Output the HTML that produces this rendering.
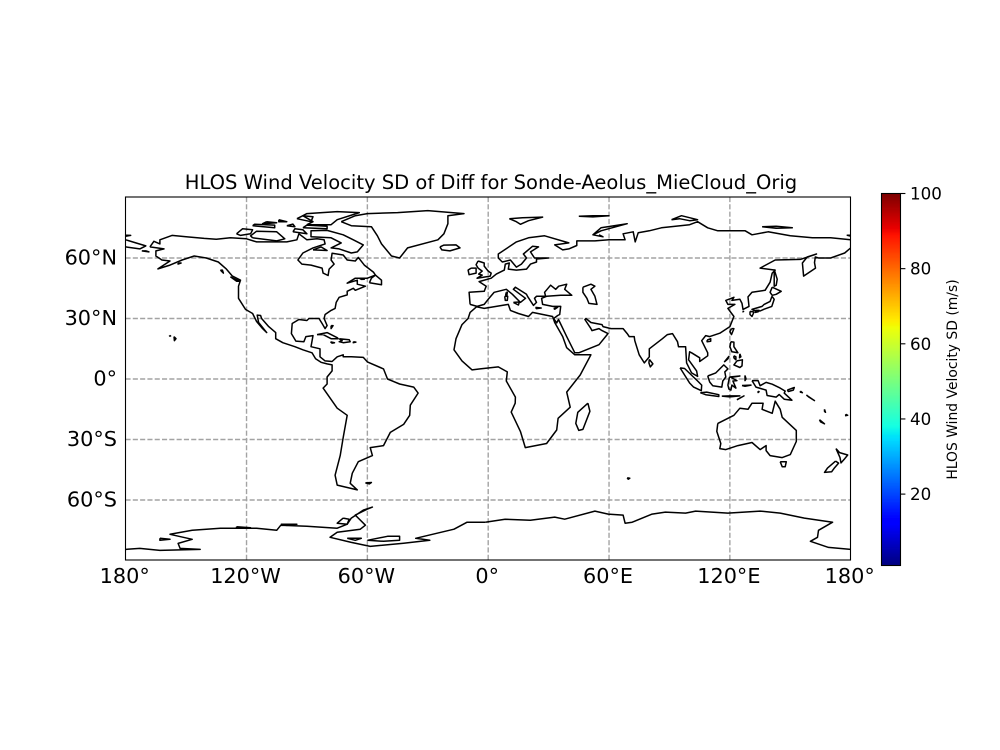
<!DOCTYPE html>
<html lang="en">
<head>
<meta charset="utf-8">
<title>HLOS Wind Velocity SD of Diff</title>
<style>
html,body{margin:0;padding:0;background:#fff;}
svg{display:block;font-family:"DejaVu Sans","Liberation Sans",sans-serif;}
</style>
</head>
<body>
<svg id="chart" xmlns="http://www.w3.org/2000/svg" width="1000" height="750" viewBox="0 0 1000 750">
<defs><clipPath id="axclip"><rect x="125.5" y="197" width="725" height="363"/></clipPath></defs>
<rect width="1000" height="750" fill="#fff"/>
<text x="491" y="189" font-size="19.55" text-anchor="middle" fill="#000">HLOS Wind Velocity SD of Diff for Sonde-Aeolus_MieCloud_Orig</text>
<g id="grid"></g>
<g id="coast" clip-path="url(#axclip)"></g>
<rect x="125.5" y="197" width="725" height="363" fill="none" stroke="#000" stroke-width="1.1"/>
<g id="xticks"></g>
<g id="yticks"></g>
<g id="cbar"></g>
<text transform="translate(957,379.5) rotate(-90)" font-size="13.9" text-anchor="middle" fill="#000">HLOS Wind Velocity SD (m/s)</text>
</svg>
<script>
var lonTicks = [-180,-120,-60,0,60,120,180];
var lonLabels = ["180°","120°W","60°W","0°","60°E","120°E","180°"];
var latTicks = [60,30,0,-30,-60];
var latLabels = ["60°N","30°N","0°","30°S","60°S"];
var colorbarTicks = [20,40,60,80,100];
var colorbarMin = 1;
var colorbarMax = 100;

var americas = [[-168,65.5],[-166,68.3],[-163,67],[-163,69],[-157,71.2],[-150,70.5],[-141,69.7],[-135,69.3],[-128,70],[-120,69.5],[-115,68],[-108,68],[-100,68],[-95,69],[-94,72],[-90,69],[-85,69.5],[-81.5,69],[-81,67],[-87,65],[-92,62.5],[-94.5,59],[-92.5,57],[-88,56.5],[-82.5,55],[-82,52.5],[-79.5,51.3],[-79,54.5],[-76.5,57],[-78,59],[-77.5,62.4],[-72,61.5],[-70,59],[-66,58.5],[-64.5,60.3],[-61.5,56.5],[-57,53],[-56,51.5],[-60,50],[-66,50],[-70,47.5],[-65,49],[-65,47],[-61,46],[-66,44],[-67,45],[-70,43.5],[-70,41.7],[-74,40.5],[-75.5,38],[-76,35],[-78,34],[-81,32],[-81.5,30],[-80,26.5],[-81,25],[-82.5,27.5],[-84,30],[-89,30],[-90,29],[-94,29.5],[-97.3,27.5],[-97.7,22.5],[-95.5,18.8],[-91.5,18.5],[-90.5,21],[-87,21.5],[-88,16],[-83.5,15],[-83.5,11],[-81,9],[-77.5,8.7],[-75,11],[-72,12],[-72,11],[-68,11],[-62,10.7],[-60,8.5],[-52,5],[-50,0],[-44,-2.5],[-37,-4],[-34.8,-7],[-38.7,-13],[-39,-18],[-42,-22.5],[-48.6,-26.5],[-52,-33],[-58.6,-34],[-57.5,-38],[-64.5,-41],[-67.5,-46.7],[-68.5,-51.7],[-65,-55],[-75,-52.6],[-76,-47.7],[-73.5,-38],[-72,-29],[-70,-18],[-75,-14.5],[-82,-4.5],[-80,-2.5],[-80,1],[-77.5,4],[-77.5,7],[-80,7.5],[-83,8.3],[-85.7,10],[-87.5,13],[-92,14.5],[-96,16],[-102,18],[-105.5,20],[-105.5,23],[-109,26],[-112.5,30],[-113,31.5],[-114.7,31.7],[-114,28],[-110,23],[-112,25],[-115,28.5],[-117,32.5],[-120.5,34.5],[-124,40],[-124,46],[-123,49],[-127,51],[-130,54.5],[-134,58],[-140,60],[-146,61],[-152,59],[-158,56.5],[-164,54.6],[-158,58.5],[-162,59],[-165,61],[-165,63.5],[-161,64.5],[-168,65.5]];

var greenland = [[-73,78],[-66,81],[-60,82],[-45,82.5],[-30,83.5],[-12,82],[-20,81],[-20,77],[-22,72],[-25,69],[-40,65],[-44,60],[-48,61],[-53,67],[-55,71],[-58,75.5],[-68,76],[-73,78]];

var arcticCanada = [
[[-80,73.7],[-72,71.5],[-67,69],[-62,66.5],[-65,63],[-68,62.5],[-74,64.5],[-78,65],[-73,67.5],[-78,70],[-88,70.5],[-88,73.5],[-80,73.7]],
[[-117,70],[-105,68.5],[-101,69.5],[-105,73],[-115,73.3],[-118,71],[-117,70]],
[[-90,76.5],[-78,76.5],[-75,79],[-64,82.5],[-75,83],[-90,82],[-92,81],[-87,78],[-90,76.5]],
[[-125,72],[-123,71.2],[-118,72],[-117,74],[-122,74.5],[-125,72]],
[[-92,75],[-80,74.5],[-80,75.7],[-90,76.3],[-92,75]],
[[-117,76],[-106,75],[-106,76.3],[-116,76.7],[-117,76]],
[[-95,79.5],[-88,78],[-87,80.5],[-92,81],[-95,79.5]],
[[-97,73],[-90,72],[-92,74],[-96,74.5],[-97,73]],
[[-87,64],[-80,63.7],[-83,65.5],[-87,64]],
[[-110,78],[-105,77.5],[-112,77],[-110,78]],
[[-100,76],[-96,75.5],[-97,76.8],[-100,76]],
[[-104,79],[-100,78],[-104,78],[-104,79]],
[[-59,47.7],[-53,46.7],[-53,49],[-56,51.5],[-58,50],[-59,47.7]],
[[-128,50.7],[-123.5,48.5],[-125,48.5],[-128,50.7]],
[[-133,54],[-131.5,52.5],[-132,54],[-133,54]],
[[-154,57.5],[-152.5,57.5],[-154,57],[-154,57.5]],
[[-172,63.5],[-168.5,63],[-170,63.5],[-172,63.5]],
[[-64,50],[-61.5,49.5],[-63,49.4],[-64,50]]
];

var caribbean = [
[[-85,22],[-80,23],[-75,20.5],[-74.5,20],[-78,20],[-82,22],[-85,22]],
[[-74,20],[-69,19.5],[-68.5,18.5],[-72,18],[-74,18.5],[-72.5,19],[-74,20]],
[[-78.3,18.4],[-76.3,18],[-77.5,17.8],[-78.3,18.4]],
[[-67,18.5],[-65.7,18.3],[-67,18],[-67,18.5]],
[[-78,26.5],[-77,26.5],[-78,25],[-78,26.5]],
[[-156,21],[-155,20],[-155.8,19],[-156,21]],
[[-158.2,21.6],[-157.7,21.3],[-158.2,21.3],[-158.2,21.6]]
];

var southAtlantic = [
[[-61,-51.5],[-58,-51.3],[-59,-52],[-61,-51.5]]
];

var eurasia = [[-9,37],[-9.5,43],[-2,43.5],[-1,46],[-4.5,48.3],[1.5,50],[4,52],[8,54],[8.5,57],[10.5,57.5],[10,54.5],[14,54],[19,54.5],[21,57],[24,58],[24,59.5],[30,60],[23,60],[21,63],[25,65.5],[22,65.8],[17.5,62],[19,60],[16.5,57],[14,55.5],[11,59],[7,58],[5,60],[5,62],[14,68],[20,70],[28,71],[40,67.5],[33,66.5],[37,64],[40,64.5],[44,66.2],[44,68.5],[53,68.5],[60,69],[68,69],[67,72],[72,73],[73,68],[74.5,72.5],[80,73.5],[86,75],[100,76.5],[104,78],[109,75],[114,73.5],[127.6,73.5],[131,71.5],[139,73],[150,71],[161,70],[170,70],[180,69],[180,65],[177,62.5],[170,60],[164,60],[162.4,60.5],[162,57.7],[162.5,55],[156.6,51],[156,57.5],[158.4,60.5],[163,62],[155,59.3],[142.5,59],[135,55],[142.5,54],[141,52.5],[140,48],[137.5,44],[131,43],[129,40.7],[129.5,36],[126.5,34.5],[126,37.5],[125,39.5],[121,39],[122,40.5],[118,39],[119,37],[122.5,37],[119,35],[122,31],[120,26],[115,22.7],[110,21],[108,21.5],[106,19],[109,13],[109,11.5],[105,8.7],[105,10.5],[101,13],[100,13.5],[99.5,9.5],[103.5,4],[104,1.3],[101,3],[98.5,8],[98,16],[94.5,16],[94,18.5],[91.5,22.5],[89,22],[86.5,20],[80,15],[80,11],[77.5,8],[75,12],[72.8,19],[72.5,21],[70,21],[69,22.5],[67,25],[61,25],[57,26],[56.5,27],[51,28],[48.5,30],[48,29.5],[51,25],[51.5,24],[55,25],[56.5,24],[59.5,22.5],[55,17],[45,13],[43,13],[39,21],[34.9,29.5],[34,27.8],[32.5,30],[34.5,31.5],[35.5,32],[36,36],[32,36],[27,37],[26.5,40],[29,41],[36,41.5],[41.5,41.5],[38,44.5],[39,47],[35,46],[33.5,44.5],[31,46.5],[28,43],[28.5,41],[24,41],[23,40],[24,38],[22.5,36.5],[19.5,41],[19,42],[13.5,45.5],[12.5,44.5],[18.5,40],[16,38],[12,42],[9,44.5],[3,43],[0,39.5],[-2,37],[-5.5,36],[-9,37]];

var chukotka = [[-180,69],[-175,67.5],[-170,66],[-173,64.5],[-180,65.5]];

var africa = [[-5.8,35.8],[-2,35],[10,37],[11,34],[15,32.5],[20,31],[22,33],[32,31],[33,28],[37,21],[39,15.5],[43,12],[51,12],[45.7,2],[39,-6.5],[40.7,-14],[34.7,-19.5],[34,-25.3],[29,-32],[18.4,-34],[16,-26],[11.4,-16.4],[13.4,-12],[13.5,-9],[9,-1],[9.5,3.5],[5,6],[-4,5],[-8,4.5],[-13,9],[-17,14.5],[-16,20],[-13,27],[-10,30],[-9,33],[-5.8,35.8]];

var australia = [[114,-22],[113.5,-26],[115.5,-32],[115,-34.5],[118,-35],[124,-33],[131,-31.5],[135,-35],[138,-33],[138,-35.5],[140,-38],[146,-39],[150,-37.5],[153,-31],[153,-25.5],[146,-19],[145,-15],[142.5,-11],[141,-17],[136,-15],[136.5,-12],[131,-12],[129,-15],[125,-14.5],[122,-18],[114,-22]];

var oceaniaIslands = [
[[145,-41],[148,-41],[147.5,-43.5],[146,-43.5],[145,-41]],
[[172.7,-34.5],[174.5,-36.5],[178.5,-37.7],[177,-39.5],[175.2,-41.6],[174.7,-39],[172.7,-34.5]],
[[172.5,-40.7],[174,-41.7],[172,-44],[170.5,-46],[167,-46.3],[168.5,-44.2],[172.5,-40.7]],
[[164.5,-20.2],[167,-22.2],[165,-21.2],[164.5,-20.2]],
[[167,-15],[167.5,-16.5],[167,-16],[167,-15]],
[[177.5,-17.5],[178.5,-18],[177.5,-18.2],[177.5,-17.5]]
];

var seaAsiaIslands = [
[[95.3,5.5],[97.5,5.2],[104,-1],[106,-3],[105.8,-5.8],[102,-4],[100,-2],[95.3,5.5]],
[[105.3,-6.8],[108.5,-6.5],[114.5,-7.8],[114.5,-8.7],[108,-7.8],[105.3,-6.8]],
[[109,1.5],[113,3],[117,7],[119,5],[117.5,3.5],[118,1],[116.5,-1],[116,-4],[111.5,-3.3],[110,-1.5],[109,1.5]],
[[119.8,1],[125,1.5],[120.5,0.8],[123.5,-0.8],[121.5,-1],[123,-4.5],[121,-3],[120.5,-5.5],[119.5,-5],[119,-3],[119.8,1]],
[[131,-0.8],[134,-0.8],[135,-3.3],[138,-1.7],[141,-2.6],[145,-4.5],[147.5,-6],[147,-7],[150.8,-10.5],[147,-10],[144.5,-7.7],[143,-9],[138.5,-8.2],[138,-5.5],[133,-4],[131,-0.8]],
[[148.5,-5.5],[152,-4.2],[151.5,-5.5],[149,-6.2],[148.5,-5.5]],
[[155,-6],[156,-6.8],[155,-6.5],[155,-6]],
[[158,-8],[161,-10],[162,-10.7],[159,-8.8],[158,-8]],
[[116,-8.5],[120,-8.4],[125,-8.4],[120,-8.9],[116,-8.5]],
[[123.5,-10.3],[127,-8.4],[124,-10],[123.5,-10.3]],
[[126,-3.2],[130.5,-3],[127.5,-3.6],[126,-3.2]],
[[127.5,1.8],[128,0],[127.5,-0.8],[127.5,1.8]],
[[134,-6],[134.5,-6.3],[134,-6.7],[134,-6]],
[[120.5,18.5],[122,18.3],[122,16],[124,13],[121,13.5],[120,16],[120.5,18.5]],
[[122,11.5],[123,11],[123,9.5],[122,10.5],[122,11.5]],
[[125,12.5],[125.5,11],[124.8,10.5],[125,12.5]],
[[123.5,9],[126.2,9.5],[126,6.5],[125,5.7],[122,7],[123.5,9]],
[[117.2,8.4],[119.5,11.2],[119,10],[117.2,8.4]],
[[120.8,25],[122,25],[120.8,22],[120,23.5],[120.8,25]],
[[108.7,19.3],[110.5,20],[110.5,18.7],[108.7,18.5],[108.7,19.3]],
[[80,9.7],[81.8,7.5],[80.5,6],[79.8,8],[80,9.7]]
];

var japanIslands = [
[[141,45.5],[145.5,43.5],[143,42],[141,41.5],[140,43],[141,45.5]],
[[140.9,41],[142,39.5],[140.8,36],[137,34.6],[135,33.7],[132,34],[131,34.5],[136,36],[137,37],[140,38.5],[140.9,41]],
[[130,33.5],[132,33.2],[131,31],[130,32],[130,33.5]],
[[133,34],[134.5,34],[134,33.3],[132.7,33],[133,34]],
[[142,54.3],[143.5,49.5],[143,46.5],[142,46],[142,50],[142,54.3]],
[[126.3,33.5],[126.8,33.5],[126.5,33.3],[126.3,33.5]]
];

var arcticEurasia = [
[[10.5,79.5],[17,80],[27,80.3],[20,78.5],[16,76.7],[14,78],[10.5,79.5]],
[[45,80.7],[52,81],[60,81],[52,80.4],[45,80.7]],
[[52,71.5],[56,75],[69,77],[56,73.5],[52,71.5],[57,70.5],[55,71.5]],
[[91,79],[96,81],[104,79],[100,78.5],[95,79.5],[91,79]],
[[136,75.5],[143,75.7],[151,75],[143,74.8],[136,75.5]],
[[178,71.3],[180,71.3],[180,70.8],[178,71.3]],
[[-180,71.3],[-177.5,71.2],[-180,70.8],[-180,71.3]]
];

var europeIslands = [
[[-5,58.5],[-2,57.5],[-2,56],[0,53.5],[1.5,52.5],[1,51],[-5.5,50],[-3,51.5],[-4.7,52],[-3,53.5],[-5,55],[-6,56.7],[-5,58.5]],
[[-8.5,55],[-6,55],[-6,52.5],[-9.5,51.7],[-10,54],[-8.5,55]],
[[-24,65.5],[-22,66.4],[-16,66.5],[-14,65],[-19,63.5],[-23,64],[-24,65.5]],
[[8.2,41],[9.7,41],[9.5,39],[8.5,39],[8.2,41]],
[[9,43],[9.5,43],[9.3,41.4],[8.7,41.7],[9,43]],
[[12.5,38],[15.5,38.2],[15,36.7],[12.5,38]],
[[23.5,35.5],[26.3,35.2],[24,34.9],[23.5,35.5]],
[[32.5,35],[34.5,35.6],[33,34.6],[32.5,35]]
];

var caspianSea = [[47,45.5],[51,47],[53,46],[51,44.5],[53,41],[54,37],[50,37.5],[49,40],[47,43],[47,45.5]];

var indianOceanIslands = [
[[49.5,-12],[50.5,-16],[47,-25],[45,-25.5],[43.5,-22],[44.5,-16.5],[49.5,-12]],
[[69,-49],[70.3,-49.2],[69.5,-49.7],[69,-49]]
];

var antarcticaEast = [[-1.5,-71],[8.4,-69.5],[20.9,-70],[33,-68.5],[38,-69.5],[53,-65.5],[59.6,-67],[67,-67.5],[68,-71.5],[71.5,-71],[81.4,-67],[88,-66],[98,-66.5],[103,-65.5],[111,-66],[119,-66.5],[135,-65.5],[145,-66.5],[157,-69],[171,-71],[164,-75],[163.5,-78.5],[160,-80.5],[169,-83.5],[180,-84.5]];

var antarcticaWest = [[-180,-84.5],[-173,-84],[-163,-85],[-143,-84.5],[-153,-84],[-154,-81.5],[-147,-79.5],[-158,-77],[-147,-75],[-133,-74],[-115,-74],[-105,-75],[-103,-72.5],[-90,-73],[-75,-74],[-70,-72],[-68,-69],[-62,-65],[-57.5,-63.5],[-60,-64.5],[-63,-66],[-66,-67.5],[-61,-72.5],[-63.5,-74.5],[-75,-76],[-78.5,-78.5],[-68,-81],[-58.6,-83],[-42,-81.4],[-29,-80],[-36,-79],[-17,-74.5],[-10.5,-71],[-1.5,-71]];

var antarcticIslands = [
[[-72,-69],[-69,-69.5],[-70,-72],[-75,-71.5],[-72,-69]],
[[-60,-80],[-50,-78],[-44,-78],[-44,-80],[-52,-80.5],[-60,-80]],
[[-70,-79],[-63,-79],[-66,-80],[-70,-79]],
[[-163,-79],[-158,-79.5],[-163,-80],[-163,-79]],
[[-103,-72],[-95,-72],[-100,-72.6],[-103,-72]],
[[-125,-73.3],[-118,-73.8],[-125,-74],[-125,-73.3]]
];

var polylines = [americas,greenland,eurasia,chukotka,africa,australia,caspianSea,antarcticaEast,antarcticaWest]
  .concat(arcticCanada,caribbean,southAtlantic,oceaniaIslands,seaAsiaIslands,japanIslands,arcticEurasia,europeIslands,indianOceanIslands,antarcticIslands);

var NS = 'http://www.w3.org/2000/svg';
function xScale(lon){ return 488.2 + lon * 725 / 360; }
function yScale(lat){ return 379 - lat * 363 / 180; }
function cbarY(v){ return 565.5 - (v - colorbarMin) * 372 / (colorbarMax - colorbarMin); }
function interp(points, t){
  for (var i = 1; i < points.length; i++) {
    if (t <= points[i][0]) {
      var a = points[i-1], b = points[i];
      return a[1] + (b[1]-a[1]) * (t-a[0]) / (b[0]-a[0]);
    }
  }
  return points[points.length-1][1];
}
var jetR = [[0,0],[0.35,0],[0.66,1],[0.89,1],[1,0.5]];
var jetG = [[0,0],[0.125,0],[0.375,1],[0.64,1],[0.91,0],[1,0]];
var jetB = [[0,0.5],[0.11,1],[0.34,1],[0.65,0],[1,0]];
function jet(t){
  return 'rgb(' + Math.round(255*interp(jetR,t)) + ',' + Math.round(255*interp(jetG,t)) + ',' + Math.round(255*interp(jetB,t)) + ')';
}
function mk(tag, attrs){
  var el = document.createElementNS(NS, tag);
  for (var k in attrs) el.setAttribute(k, attrs[k]);
  return el;
}
var gridG = document.getElementById('grid');
lonTicks.slice(1,-1).forEach(function(lon){
  var el = mk('line',{x1:xScale(lon),x2:xScale(lon),y1:197,y2:560,stroke:'#a3a3a3','stroke-width':1.4,'stroke-dasharray':'5.1 2.2'});
  
  
  gridG.appendChild(el);
});
latTicks.forEach(function(lat){
  var el = mk('line',{x1:125.5,x2:850.5,y1:yScale(lat),y2:yScale(lat),stroke:'#a3a3a3','stroke-width':1.4,'stroke-dasharray':'5.1 2.2'});
  
  
  gridG.appendChild(el);
});
var coastG = document.getElementById('coast');
polylines.forEach(function(line){
  var pts = line.map(function(p){ return xScale(p[0]).toFixed(1) + ',' + yScale(p[1]).toFixed(1); }).join(' ');
  var el = mk('polyline',{points:pts,fill:'none',stroke:'#000','stroke-width':1.5,'stroke-linejoin':'round'});
  
  
  coastG.appendChild(el);
});
var xt = document.getElementById('xticks');
lonTicks.forEach(function(lon,i){
  var el = mk('text',{x:xScale(lon)-1,y:583,'font-size':20.8,'text-anchor':'middle',fill:'#000'});
  el.textContent = lonLabels[i];
  
  
  xt.appendChild(el);
});
var yt = document.getElementById('yticks');
latTicks.forEach(function(lat,i){
  var el = mk('text',{x:117,y:yScale(lat)+6.5,'font-size':20.8,'text-anchor':'end',fill:'#000'});
  el.textContent = latLabels[i];
  
  
  yt.appendChild(el);
});
var cb = document.getElementById('cbar');
for (var s = 0; s < 256; s++) {
  var seg = mk('rect',{x:881.5,width:19,y:565.5-(s+1)*372/256,height:372/256+0.4,fill:jet(s/255)});
  
  
  cb.appendChild(seg);
}
var frame = mk('rect',{x:881.5,y:193.5,width:19,height:372,fill:'none',stroke:'#000','stroke-width':1.1});


cb.appendChild(frame);
colorbarTicks.forEach(function(v){
  var y = cbarY(v);
  var tick = mk('line',{x1:900.5,x2:905.4,y1:y,y2:y,stroke:'#000','stroke-width':1.1});
  
  
  cb.appendChild(tick);
  var lab = mk('text',{x:910,y:y+6,'font-size':16.7,fill:'#000'});
  lab.textContent = String(v);
  
  
  cb.appendChild(lab);
});
</script>
</body>
</html>
